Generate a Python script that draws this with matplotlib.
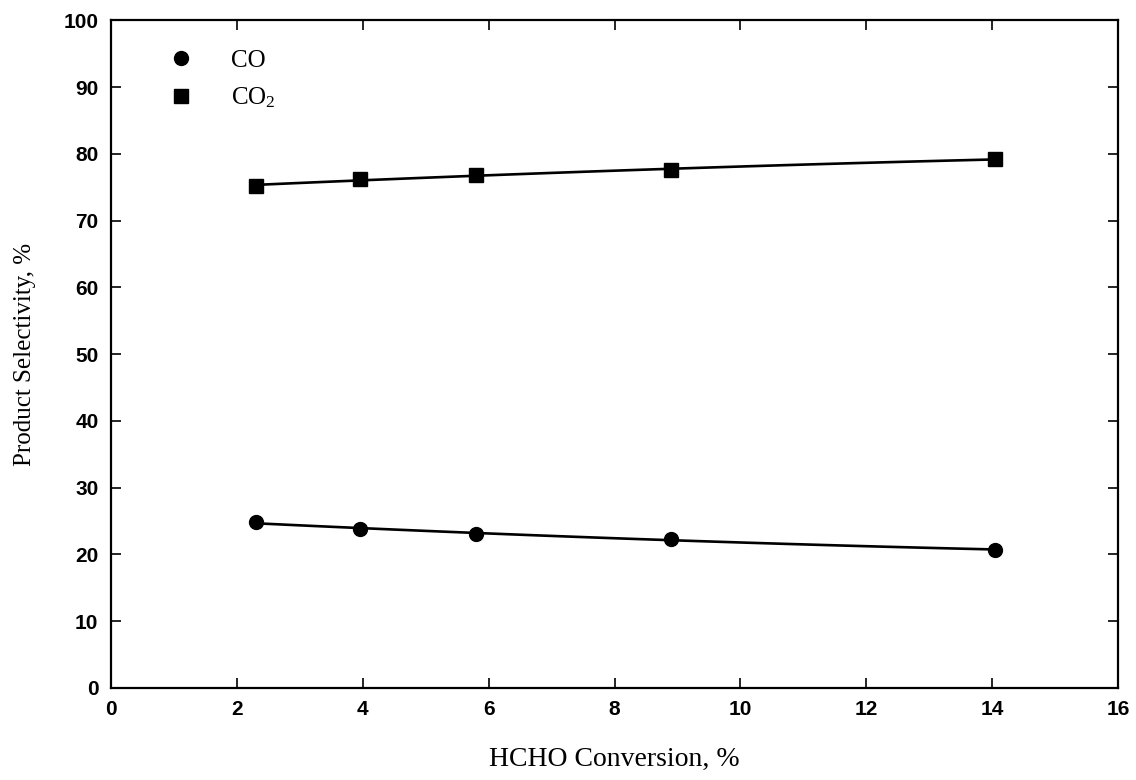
import matplotlib
matplotlib.use("Agg")
import matplotlib.pyplot as plt
import numpy as np

# HCHO conversion (%) and product selectivities (%)
conversion = [2.3, 3.95, 5.8, 8.9, 14.05]
sel_co = [24.8, 23.8, 23.1, 22.3, 20.7]
sel_co2 = [75.2, 76.2, 76.8, 77.6, 79.2]

x_ticks = [0, 2, 4, 6, 8, 10, 12, 14, 16]
y_ticks = [0, 10, 20, 30, 40, 50, 60, 70, 80, 90, 100]

plt.rcParams["mathtext.fontset"] = "custom"
plt.rcParams["mathtext.rm"] = "Liberation Serif"
plt.rcParams["mathtext.it"] = "Liberation Serif:italic"

fig = plt.figure(figsize=(11.36, 7.8), dpi=100)
ax = fig.add_axes([0.0977, 0.118, 0.8865, 0.856])


def fit_curve(x, y):
    coef = np.polyfit(x, y, 2)
    xs = np.linspace(min(x), max(x), 100)
    return xs, np.polyval(coef, xs)


xs, ys = fit_curve(conversion, sel_co)
ax.plot(xs, ys, color="black", lw=1.9)
xs, ys = fit_curve(conversion, sel_co2)
ax.plot(xs, ys, color="black", lw=1.9)

ax.plot(conversion, sel_co, "o", color="black", ms=10, label="CO")
ax.plot(conversion, sel_co2, "s", color="black", ms=9.5, label="CO$_2$")

ax.set_xlim(0, 16)
ax.set_ylim(0, 100)
ax.set_xticks(x_ticks)
ax.set_yticks(y_ticks)
ax.tick_params(direction="in", length=7, width=1.2, top=True, right=True,
               labelsize=15, pad=9)
for lab in ax.get_xticklabels() + ax.get_yticklabels():
    lab.set_fontfamily("Liberation Sans")
    lab.set_fontweight("bold")
for sp in ax.spines.values():
    sp.set_linewidth(1.6)

ax.set_xlabel("HCHO Conversion, %", fontfamily="Liberation Serif",
              fontsize=20, labelpad=20)
ax.set_ylabel("Product Selectivity, %", fontfamily="Liberation Serif",
              fontsize=18, labelpad=20)

ax.legend(loc="upper left", bbox_to_anchor=(0.035, 0.99), frameon=False,
          prop={"family": "Liberation Serif", "size": 18},
          handletextpad=1.5, labelspacing=0.55, handlelength=1.0)

fig.savefig("out.png", dpi=100)
